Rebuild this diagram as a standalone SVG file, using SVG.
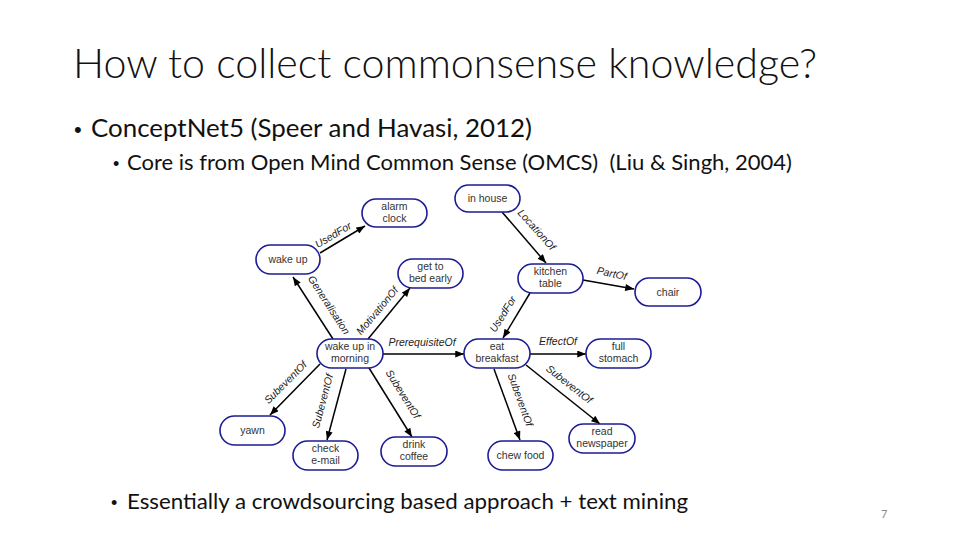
<svg xmlns="http://www.w3.org/2000/svg" width="960" height="540" viewBox="0 0 960 540">
<style>
.slide{font-family:Lato,"Open Sans","Liberation Sans",sans-serif;fill:#111}
.bul{font-family:"Liberation Sans",Arial,sans-serif;fill:#111}
.node rect{fill:#fff;stroke:#1c1c94;stroke-width:1.6}
.node text{font-family:"Liberation Sans",Arial,sans-serif;font-size:10.5px;fill:#333;text-anchor:middle}
.edge{stroke:#000;stroke-width:1.5;fill:none;marker-end:url(#ah)}
.lbl{font-family:"Liberation Sans",Arial,sans-serif;font-size:10.5px;font-style:italic;fill:#222;text-anchor:middle}
</style>
<defs>
<marker id="ah" viewBox="0 0 10 8" refX="10" refY="4" markerWidth="10" markerHeight="7" markerUnits="userSpaceOnUse" orient="auto">
<path d="M0,0 L10,4 L0,8 Z" fill="#000"/>
</marker>
</defs>
<rect width="960" height="540" fill="#fff"/>
<text class="slide" x="73" y="78" font-size="42" font-weight="300" textLength="744" lengthAdjust="spacingAndGlyphs">How to collect commonsense knowledge?</text>
<text class="bul" x="74" y="137" font-size="22">•</text>
<text class="slide" x="91" y="137" font-size="25" textLength="441" lengthAdjust="spacingAndGlyphs">ConceptNet5 (Speer and Havasi, 2012)</text>
<text class="bul" x="113" y="170" font-size="18">•</text>
<text class="slide" x="127" y="170" font-size="21" textLength="665" lengthAdjust="spacingAndGlyphs" xml:space="preserve">Core is from Open Mind Common Sense (OMCS)  (Liu &amp; Singh, 2004)</text>
<text class="bul" x="111" y="509" font-size="18">•</text>
<text class="slide" x="127" y="509" font-size="21" textLength="561" lengthAdjust="spacingAndGlyphs">Essentially a crowdsourcing based approach + text mining</text>
<text x="881" y="518" font-family="Lato,'Liberation Sans',sans-serif" font-size="11" fill="#8a8a8a">7</text>

<g id="connectors">
<line class="edge" x1="320" y1="253" x2="365" y2="226"/>
<line class="edge" x1="333" y1="339" x2="293" y2="277"/>
<line class="edge" x1="368" y1="339" x2="410" y2="288"/>
<line class="edge" x1="383" y1="354" x2="464" y2="354"/>
<line class="edge" x1="530" y1="293" x2="503" y2="338"/>
<line class="edge" x1="502" y1="212" x2="546" y2="263"/>
<line class="edge" x1="583" y1="280" x2="634" y2="289"/>
<line class="edge" x1="530" y1="354" x2="586" y2="354"/>
<line class="edge" x1="494" y1="369" x2="520" y2="440"/>
<line class="edge" x1="526" y1="365" x2="600" y2="424"/>
<line class="edge" x1="320" y1="364" x2="270" y2="415"/>
<line class="edge" x1="346" y1="369" x2="327" y2="440"/>
<line class="edge" x1="369" y1="368" x2="412" y2="437"/>
<text class="lbl" transform="translate(335,238) rotate(-31)">UsedFor</text>
<text class="lbl" transform="translate(326,307) rotate(57)">Generalisation</text>
<text class="lbl" transform="translate(380,313) rotate(-50)">MotivationOf</text>
<text class="lbl" x="422" y="346">PrerequisiteOf</text>
<text class="lbl" transform="translate(506,316) rotate(-58)">UsedFor</text>
<text class="lbl" transform="translate(534,232) rotate(48)">LocationOf</text>
<text class="lbl" transform="translate(611,277) rotate(12)">PartOf</text>
<text class="lbl" x="558" y="345">EffectOf</text>
<text class="lbl" transform="translate(517,401) rotate(70)">SubeventOf</text>
<text class="lbl" transform="translate(567,387) rotate(38)">SubeventOf</text>
<text class="lbl" transform="translate(288,385) rotate(-45)">SubeventOf</text>
<text class="lbl" transform="translate(326,402) rotate(-75)">SubeventOf</text>
<text class="lbl" transform="translate(400,396) rotate(58)">SubeventOf</text>
</g>

<g id="n-in-house" class="node"><rect x="455" y="185" width="65" height="27" rx="13.5"/><text x="487.5" y="202">in house</text></g>
<g id="n-alarm-clock" class="node"><rect x="362" y="199" width="65" height="28" rx="14"/><text x="394.5" y="210">alarm</text><text x="394.5" y="222">clock</text></g>
<g id="n-wake-up" class="node"><rect x="256" y="245" width="64" height="29" rx="14.5"/><text x="288" y="263">wake up</text></g>
<g id="n-get-to-bed-early" class="node"><rect x="398" y="259" width="65" height="29" rx="14.5"/><text x="430.5" y="270">get to</text><text x="430.5" y="282">bed early</text></g>
<g id="n-kitchen-table" class="node"><rect x="518" y="264" width="65" height="29" rx="14.5"/><text x="550.5" y="275">kitchen</text><text x="550.5" y="287">table</text></g>
<g id="n-chair" class="node"><rect x="635" y="278" width="66" height="28" rx="14"/><text x="668" y="296">chair</text></g>
<g id="n-wake-up-in-morning" class="node"><rect x="317" y="339" width="66" height="29" rx="14.5"/><text x="350" y="350">wake up in</text><text x="350" y="362">morning</text></g>
<g id="n-eat-breakfast" class="node"><rect x="464" y="339" width="66" height="29" rx="14.5"/><text x="497" y="350">eat</text><text x="497" y="362">breakfast</text></g>
<g id="n-full-stomach" class="node"><rect x="586" y="339" width="65" height="29" rx="14.5"/><text x="618.5" y="350">full</text><text x="618.5" y="362">stomach</text></g>
<g id="n-yawn" class="node"><rect x="220" y="416" width="65" height="29" rx="14.5"/><text x="252.5" y="434">yawn</text></g>
<g id="n-check-email" class="node"><rect x="293" y="441" width="65" height="29" rx="14.5"/><text x="325.5" y="452">check</text><text x="325.5" y="464">e-mail</text></g>
<g id="n-drink-coffee" class="node"><rect x="381" y="437" width="66" height="29" rx="14.5"/><text x="414" y="448">drink</text><text x="414" y="460">coffee</text></g>
<g id="n-chew-food" class="node"><rect x="488" y="441" width="65" height="29" rx="14.5"/><text x="520.5" y="459">chew food</text></g>
<g id="n-read-newspaper" class="node"><rect x="569" y="424" width="66" height="29" rx="14.5"/><text x="602" y="435">read</text><text x="602" y="447">newspaper</text></g>
</svg>
